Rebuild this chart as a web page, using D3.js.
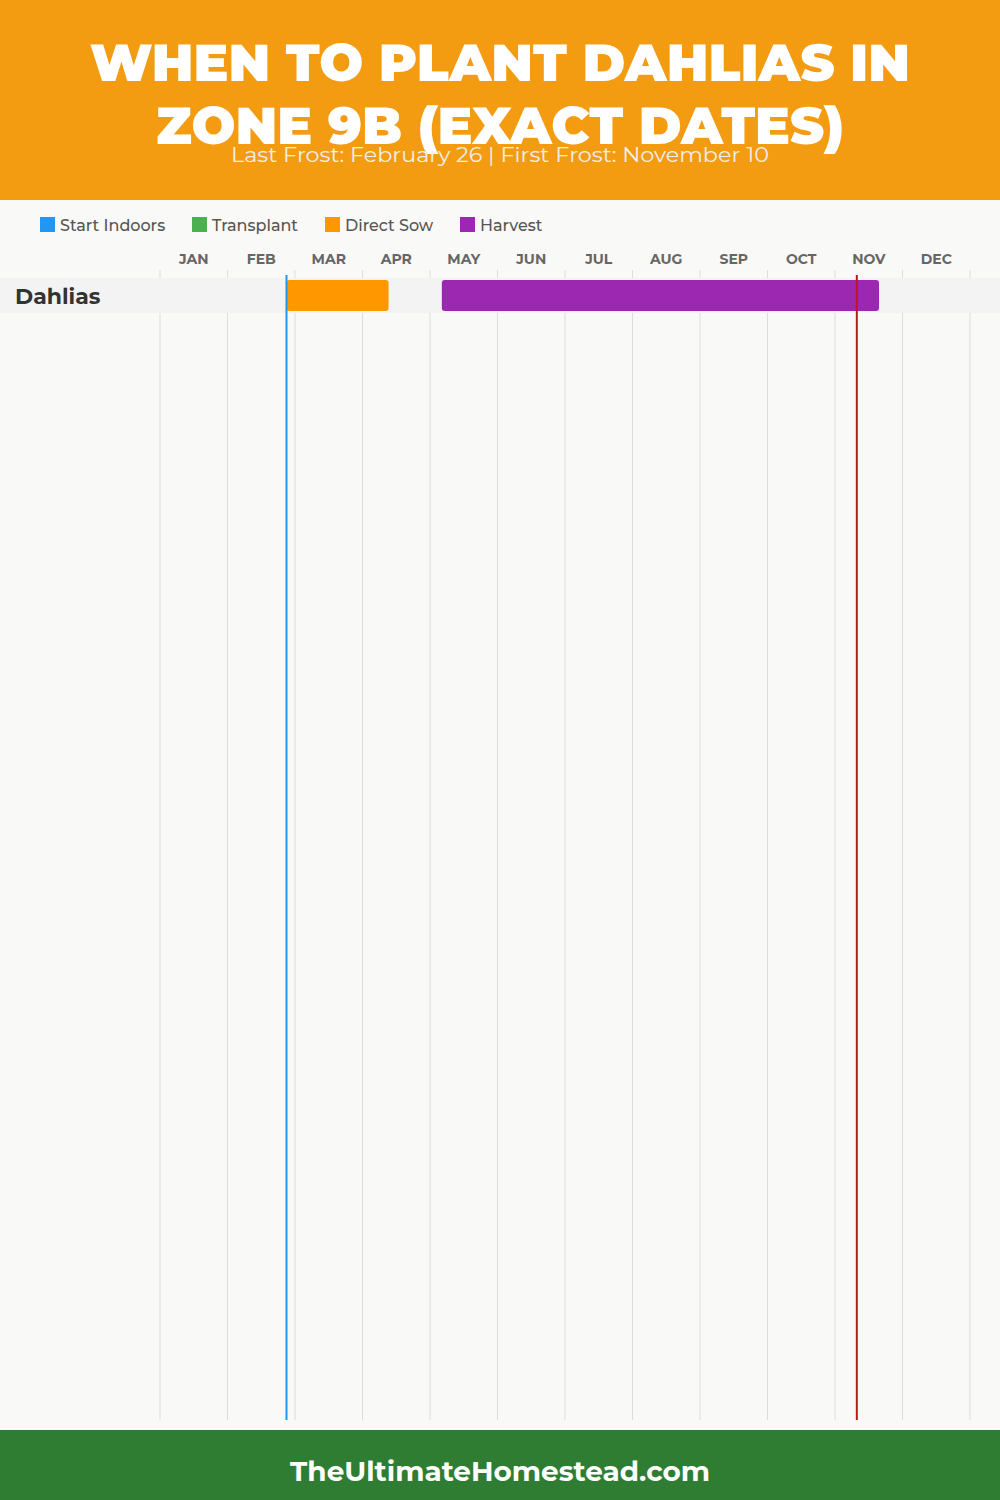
<!DOCTYPE html>
<html><head><meta charset="utf-8">
<script src="https://cdn.jsdelivr.net/npm/d3@7"></script>
<style>html,body{margin:0;padding:0;background:#f9f9f7;}svg{display:block;}</style>
</head><body>
<svg id="chart" width="1000" height="1500"></svg>
<script>
const titleLines = ["WHEN TO PLANT DAHLIAS IN", "ZONE 9B (EXACT DATES)"];
const subtitle = "Last Frost: February 26 | First Frost: November 10";
const months = ["JAN","FEB","MAR","APR","MAY","JUN","JUL","AUG","SEP","OCT","NOV","DEC"];
const phases = ["Start Indoors","Transplant","Direct Sow","Harvest"];
const crops = ["Dahlias"];
const directSowStart = ["2023-02-26"];
const directSowEnd = ["2023-04-13"];
const harvestStart = ["2023-05-07"];
const harvestEnd = ["2023-11-20"];
const lastFrost = "2023-02-26";
const firstFrost = "2023-11-10";
const footer = "TheUltimateHomestead.com";

const colors = {"Start Indoors":"#2196F3","Transplant":"#4CAF50","Direct Sow":"#FF9800","Harvest":"#9C27B0"};
const FONT = "Montserrat, 'Open Sans', Lato, sans-serif";
const parse = d3.timeParse("%Y-%m-%d");
const doy = s => { const d = parse(s); return d3.timeDay.count(d3.timeYear(d), d) + 1; };

const svg = d3.select("#chart");
svg.append("rect").attr("width",1000).attr("height",1500).attr("fill","#f9f9f7");

// header
svg.append("rect").attr("width",1000).attr("height",200).attr("fill","#F39C12");
const titleW = [820, 688];
titleLines.forEach((t,i)=>{
  svg.append("text").attr("x",500).attr("y",81+i*63).attr("text-anchor","middle")
    .attr("font-family",FONT).attr("font-weight",900).attr("font-size",52)
    .attr("fill","#fff").attr("textLength",titleW[i]).attr("lengthAdjust","spacingAndGlyphs").text(t);
});
svg.append("text").attr("x",500).attr("y",162).attr("text-anchor","middle")
  .attr("font-family",FONT).attr("font-size",20).attr("fill","#eeeeee")
  .attr("textLength",538).attr("lengthAdjust","spacingAndGlyphs").text(subtitle);

// legend
const legendX = [40,192,325,460];
phases.forEach((p,i)=>{
  svg.append("rect").attr("x",legendX[i]).attr("y",217).attr("width",15).attr("height",15).attr("fill",colors[p]);
  svg.append("text").attr("x",legendX[i]+20).attr("y",231).attr("font-family",FONT).attr("font-size",16)
    .attr("font-weight",500).attr("fill","#555").text(p);
});

// scales
const xm = d3.scaleBand().domain(months).range([160,970]);
const x = d3.scaleLinear().domain([0,365]).range([160,970]);
const y = d3.scaleBand().domain(crops).range([278,313]);

// grid lines
const gridX = months.map(m=>xm(m)).concat([970]);
svg.append("g").selectAll("line").data(gridX).join("line")
  .attr("x1",d=>d).attr("x2",d=>d).attr("y1",270).attr("y2",1420)
  .attr("stroke","#dddddd").attr("stroke-width",1);

// month labels
svg.append("g").selectAll("text").data(months).join("text")
  .attr("x",d=>xm(d)+xm.bandwidth()/2).attr("y",264).attr("text-anchor","middle")
  .attr("font-family",FONT).attr("font-weight",700).attr("font-size",14).attr("fill","#666").text(d=>d);

// rows
crops.forEach((c,i)=>{
  svg.append("rect").attr("x",0).attr("y",y(c)).attr("width",1000).attr("height",y.bandwidth()).attr("fill","#f3f3f3");
  svg.append("text").attr("x",15).attr("y",y(c)+26).attr("font-family",FONT)
    .attr("font-weight",700).attr("font-size",22).attr("fill","#333").text(c);
  const bars = [
    {s:directSowStart[i], e:directSowEnd[i], p:"Direct Sow"},
    {s:harvestStart[i], e:harvestEnd[i], p:"Harvest"}
  ];
  svg.append("g").selectAll("rect").data(bars).join("rect")
    .attr("x",d=>x(doy(d.s))).attr("width",d=>x(doy(d.e))-x(doy(d.s)))
    .attr("y",y(c)+2).attr("height",y.bandwidth()-4).attr("rx",3)
    .attr("fill",d=>colors[d.p]);
});

// frost lines
svg.append("line").attr("x1",x(doy(lastFrost))).attr("x2",x(doy(lastFrost))).attr("y1",275).attr("y2",1420)
  .attr("stroke","#2196F3").attr("stroke-width",2);
svg.append("line").attr("x1",x(doy(firstFrost))).attr("x2",x(doy(firstFrost))).attr("y1",275).attr("y2",1420)
  .attr("stroke","#B71C1C").attr("stroke-width",2);

// footer
svg.append("rect").attr("x",0).attr("y",1430).attr("width",1000).attr("height",70).attr("fill","#2E7D32");
svg.append("text").attr("x",500).attr("y",1481).attr("text-anchor","middle").attr("font-family",FONT)
  .attr("font-weight",700).attr("font-size",28).attr("fill","#fff")
  .attr("textLength",420).attr("lengthAdjust","spacingAndGlyphs").text(footer);
</script>
</body></html>
